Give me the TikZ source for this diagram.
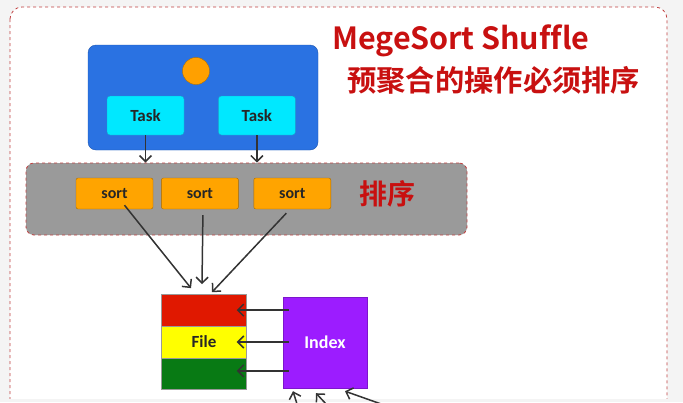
\documentclass[tikz,border=0pt]{standalone}
\usepackage{fontspec}
\setmainfont{Carlito}
\newfontfamily\cjk{Noto Sans CJK SC}[BoldFont={Noto Sans CJK SC Bold}, Ligatures=NoCommon]
\usepackage{tikz}
\usetikzlibrary{positioning,arrows.meta}

\definecolor{outbg}{HTML}{F4F4F4}
\definecolor{framered}{HTML}{C04040}
\definecolor{stageblue}{HTML}{2A72E2}
\definecolor{stageedge}{HTML}{1E56B0}
\definecolor{taskcyan}{HTML}{00E8FF}
\definecolor{taskedge}{HTML}{1B9FCC}
\definecolor{dotorange}{HTML}{FFA000}
\definecolor{sortorange}{HTML}{FFA400}
\definecolor{sortedge}{HTML}{A86A00}
\definecolor{areagray}{HTML}{9A9A9A}
\definecolor{titlered}{HTML}{C81010}
\definecolor{filered}{HTML}{E01800}
\definecolor{fileyellow}{HTML}{FFFF00}
\definecolor{filegreen}{HTML}{087A14}
\definecolor{indexpurple}{HTML}{9C1CFF}
\definecolor{linegray}{HTML}{333333}

\begin{document}
\begin{tikzpicture}[x=1pt, y=-1pt, node distance=8pt]
        \tikzstyle{stagebox} = [rectangle, rounded corners=8pt, minimum width=230pt, minimum height=105pt, draw=stageedge, fill=stageblue]
        \tikzstyle{taskbox} = [rectangle, rounded corners=3pt, minimum width=77pt, minimum height=39pt, draw=taskedge, fill=taskcyan, text=black!85, font=\bfseries\fontsize{17}{19}\selectfont]
        \tikzstyle{sortarea} = [rectangle, rounded corners=8pt, minimum width=441pt, minimum height=72pt, draw=framered, dashed, line width=0.8pt, fill=areagray]
        \tikzstyle{sortbox} = [rectangle, rounded corners=2pt, minimum width=77pt, minimum height=31pt, draw=sortedge, fill=sortorange, text=black!85, font=\bfseries\fontsize{16}{18}\selectfont]
        \tikzstyle{filepart} = [rectangle, minimum width=85pt, minimum height=31.5pt, draw=black!40, inner sep=0pt, text=black!85, font=\bfseries\fontsize{17}{19}\selectfont]
        \tikzstyle{indexbox} = [rectangle, minimum width=84pt, minimum height=91pt, draw=indexpurple!80!black, fill=indexpurple, text=white, font=\bfseries\fontsize{18}{20}\selectfont]
        \tikzstyle{redtext} = [text=titlered, inner sep=0pt, font=\cjk\bfseries]
        \tikzstyle{arrow} = [draw=linegray, line width=1.5pt, -{Straight Barb[length=6pt, width=12pt]}]

        \useasboundingbox (0,0) rectangle (683,402);
        \clip (0,0) rectangle (683,402);
        \fill[outbg] (0,0) rectangle (683,402);
        \draw[framered, dashed, line width=0.8pt, rounded corners=12pt, fill=white] (10,7) rectangle (667,430);
        \fill[outbg] (0,399) rectangle (683,402);

        % title
        \node (title) [redtext, anchor=west, font=\cjk\bfseries\fontsize{30.5}{32}\selectfont] at (332,41) {MegeSort Shuffle};
        \node (subtitle) [redtext, anchor=west, font=\cjk\bfseries\fontsize{29.3}{32}\selectfont] at (347,80) {预聚合的操作必须排序};

        % map stage
        \node (stage) [stagebox] at (203,97.5) {};
        \node (dot) [circle, minimum size=27pt, draw=dotorange!70!black, fill=dotorange] at (196,71) {};
        \node (task1) [taskbox] at (145.5,115.5) {Task};
        \node (task2) [taskbox, right=34pt of task1] {Task};

        % sort
        \node (area) [sortarea] at (246.5,199) {};
        \node (sort1) [sortbox] at (114.5,193.5) {sort};
        \node (sort2) [sortbox, right=8pt of sort1] {sort};
        \node (sort3) [sortbox, right=15pt of sort2] {sort};
        \node (sortlabel) [redtext, right=28pt of sort3, font=\cjk\bfseries\fontsize{28}{30}\selectfont] {排序};

        \draw [arrow] (task1.south) -- (task1.south |- area.north);
        \draw [arrow] (task2.south) -- (task2.south |- area.north);

        % file and index
        \node (fileyellow) [filepart, fill=fileyellow] at (204,342) {File};
        \node (filered) [filepart, fill=filered, above=0pt of fileyellow] {};
        \node (filegreen) [filepart, fill=filegreen, below=0pt of fileyellow] {};
        \node (index) [indexbox] at (325,342.5) {Index};

        \draw [arrow] ([xshift=10pt, yshift=4pt]sort1.south) -- ([xshift=-13pt, yshift=6pt]filered.north);
        \draw [arrow] ([xshift=3pt, yshift=-6pt]sort2.south) -- ([xshift=-2pt, yshift=10pt]filered.north);
        \draw [arrow] ([xshift=-6pt, yshift=-4pt]sort3.south) -- ([xshift=8pt, yshift=2pt]filered.north);

        \draw [arrow] ([xshift=6pt]index.west |- filered.east) -- ([xshift=-10pt]filered.east);
        \draw [arrow] ([xshift=6pt]index.west |- fileyellow.east) -- ([xshift=-10pt]fileyellow.east);
        \draw [arrow] ([xshift=6pt, yshift=3pt]index.west |- filegreen.east) -- ([xshift=-10pt, yshift=3pt]filegreen.east);

        % records coming in from below
        \coordinate (in1) at (297,404);
        \coordinate (in2) at (327,405);
        \coordinate (in3) at (384,405);
        \draw [arrow] (in1) -- ([xshift=-32pt, yshift=-3pt]index.south);
        \draw [arrow] (in2) -- ([xshift=-9pt, yshift=-5pt]index.south);
        \draw [arrow] (in3) -- ([xshift=20pt, yshift=-3pt]index.south);
\end{tikzpicture}
\end{document}
